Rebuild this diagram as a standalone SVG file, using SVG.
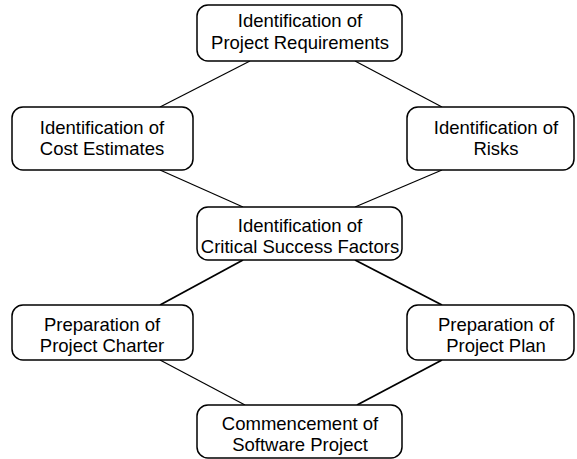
<svg xmlns="http://www.w3.org/2000/svg" width="577" height="459" viewBox="0 0 577 459">
<style>
.box{fill:#fff;stroke:#000;stroke-width:1.5}
.t{font-family:"Liberation Sans",Arial,sans-serif;font-size:18.5px;fill:#000;text-anchor:middle}
.c{stroke:#000;stroke-width:1.2;fill:none}
.c2{stroke:#000;stroke-width:1.8;fill:none}
</style>
<rect width="577" height="459" fill="#fff"/>
<g id="connectors">
<line class="c" x1="250" y1="61" x2="160" y2="107"/>
<line class="c" x1="355" y1="61" x2="442" y2="107"/>
<line class="c" x1="160" y1="170" x2="243" y2="207"/>
<line class="c" x1="442" y1="170" x2="355" y2="207"/>
<line class="c2" x1="243" y1="260" x2="160" y2="305"/>
<line class="c2" x1="355" y1="260" x2="442" y2="305"/>
<line class="c" x1="160" y1="360" x2="245" y2="405"/>
<line class="c2" x1="442" y1="360" x2="357" y2="405"/>
</g>
<g id="n1"><rect class="box" x="197" y="5" width="205" height="56" rx="11"/>
<text class="t" x="300" y="27">Identification of</text><text class="t" x="300" y="49">Project Requirements</text></g>
<g id="n2"><rect class="box" x="12" y="107" width="181" height="63" rx="11"/>
<text class="t" x="102" y="134">Identification of</text><text class="t" x="102" y="155">Cost Estimates</text></g>
<g id="n3"><rect class="box" x="407" y="107" width="167" height="63" rx="11"/>
<text class="t" x="496" y="134">Identification of</text><text class="t" x="496" y="155">Risks</text></g>
<g id="n4"><rect class="box" x="197" y="207" width="205" height="53" rx="11"/>
<text class="t" x="300" y="232">Identification of</text><text class="t" x="300" y="253">Critical Success Factors</text></g>
<g id="n5"><rect class="box" x="12" y="305" width="181" height="55" rx="11"/>
<text class="t" x="102" y="331">Preparation of</text><text class="t" x="102" y="352">Project Charter</text></g>
<g id="n6"><rect class="box" x="407" y="305" width="167" height="55" rx="11"/>
<text class="t" x="496" y="331">Preparation of</text><text class="t" x="496" y="352">Project Plan</text></g>
<g id="n7"><rect class="box" x="197" y="405" width="205" height="53" rx="11"/>
<text class="t" x="300" y="430">Commencement of</text><text class="t" x="300" y="451">Software Project</text></g>
</svg>
